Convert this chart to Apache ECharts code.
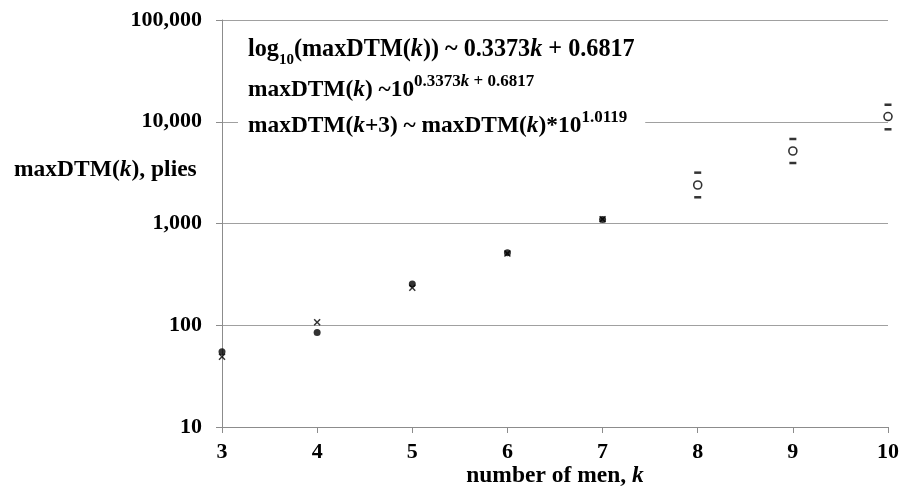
<!DOCTYPE html>
<html>
<head>
<meta charset="utf-8">
<script src="https://cdn.jsdelivr.net/npm/echarts@6/dist/echarts.min.js"></script>
<style>html,body{margin:0;padding:0;background:#fff;overflow:hidden}#c{width:901px;height:488px}</style>
</head>
<body>
<div id="c"></div>
<script>
// ---- data ----
var kActual = [3, 4, 5, 6, 7];
var maxDtmActual = [55, 85, 254, 517, 1097];
var maxDtmFitted = [49, 107, 234, 508, 1103];
var kPredicted = [8, 9, 10];
var maxDtmPredicted = [2390, 5160, 11250];
var maxDtmUpper = [3160, 6770, 14700];
var maxDtmLower = [1810, 3930, 8430];
var xTicks = [3, 4, 5, 6, 7, 8, 9, 10];

function pairs(xs, ys) { return xs.map(function (x, i) { return [x, ys[i]]; }); }

var FONT = "'Liberation Serif', 'Times New Roman', serif";
var crossPath = 'path://M0,1.5L1.5,0L5,3.5L8.5,0L10,1.5L6.5,5L10,8.5L8.5,10L5,6.5L1.5,10L0,8.5L3.5,5Z';
var EQ1 = 24.2, EQ = 23.4, SUB = 15, SUP = 17, TITLE = 23.5;

var chart = echarts.init(document.getElementById('c'), null, { renderer: 'canvas', width: 901, height: 488 });
chart.setOption({
  animation: false,
  backgroundColor: '#fff',
  grid: { left: 222, right: 13, top: 20, bottom: 61, containLabel: false, outerBoundsMode: 'none' },
  xAxis: {
    type: 'value', min: xTicks[0], max: xTicks[xTicks.length - 1], interval: 1,
    axisLine: { show: true, lineStyle: { color: '#8c8c8c', width: 1 } },
    axisTick: { show: true, length: 6, lineStyle: { color: '#8c8c8c' } },
    splitLine: { show: false },
    axisLabel: { color: '#000', fontFamily: FONT, fontWeight: 'bold', fontSize: 22, margin: 14 }
  },
  yAxis: {
    type: 'log', logBase: 10, min: 10, max: 100000,
    axisLine: { show: true, lineStyle: { color: '#8c8c8c', width: 1 } },
    axisTick: { show: true, length: 6, lineStyle: { color: '#8c8c8c' } },
    splitLine: { show: true, lineStyle: { color: '#a0a0a0', width: 1 } },
    axisLabel: {
      color: '#000', fontFamily: FONT, fontWeight: 'bold', fontSize: 22, margin: 20,
      formatter: function (v) { return Math.round(v).toLocaleString('en-US'); }
    }
  },
  graphic: [
    {
      type: 'text', x: 555, y: 476, silent: true, z: 100,
      style: {
        text: '{a|number of men, }{b|k}',
        align: 'center', verticalAlign: 'middle',
        rich: {
          a: { fontFamily: FONT, fontWeight: 'bold', fontSize: TITLE, fill: '#000' },
          b: { fontFamily: FONT, fontWeight: 'bold', fontStyle: 'italic', fontSize: TITLE, fill: '#000' }
        }
      }
    },
    {
      type: 'text', left: 14, top: 158, silent: true, z: 100,
      style: {
        text: '{a|maxDTM(}{b|k}{a|), plies}',
        rich: {
          a: { fontFamily: FONT, fontWeight: 'bold', fontSize: TITLE, fill: '#000' },
          b: { fontFamily: FONT, fontWeight: 'bold', fontStyle: 'italic', fontSize: TITLE, fill: '#000' }
        }
      }
    },
    {
      type: 'text', left: 248, top: 38, silent: true, z: 100,
      style: {
        text: '{a|log}{s|10}{a|(maxDTM(}{b|k}{a|)) ~ 0.3373}{b|k}{a| + 0.6817}',
        rich: {
          a: { fontFamily: FONT, fontWeight: 'bold', fontSize: EQ1, fill: '#000', lineHeight: 28, verticalAlign: 'bottom' },
          b: { fontFamily: FONT, fontWeight: 'bold', fontStyle: 'italic', fontSize: EQ1, fill: '#000', lineHeight: 28, verticalAlign: 'bottom' },
          s: { fontFamily: FONT, fontWeight: 'bold', fontSize: SUB, fill: '#000', lineHeight: 20, verticalAlign: 'bottom', padding: [0, 0, -6, 0] }
        }
      }
    },
    {
      type: 'text', left: 248, top: 73, silent: true, z: 100,
      style: {
        text: '{a|maxDTM(}{b|k}{a|) ~10}{p|0.3373}{q|k}{p| + 0.6817}',
        rich: {
          a: { fontFamily: FONT, fontWeight: 'bold', fontSize: EQ, fill: '#000', lineHeight: 28, verticalAlign: 'bottom' },
          b: { fontFamily: FONT, fontWeight: 'bold', fontStyle: 'italic', fontSize: EQ, fill: '#000', lineHeight: 28, verticalAlign: 'bottom' },
          p: { fontFamily: FONT, fontWeight: 'bold', fontSize: SUP, fill: '#000', lineHeight: 28, verticalAlign: 'top' },
          q: { fontFamily: FONT, fontWeight: 'bold', fontStyle: 'italic', fontSize: SUP, fill: '#000', lineHeight: 28, verticalAlign: 'top' }
        }
      }
    },
    {
      type: 'text', left: 238, top: 107, silent: true, z: 100,
      style: {
        text: '{a|maxDTM(}{b|k}{a|+3) ~ maxDTM(}{b|k}{a|)*10}{p|1.0119}',
        backgroundColor: '#fff', padding: [2, 18, 2, 10],
        rich: {
          a: { fontFamily: FONT, fontWeight: 'bold', fontSize: EQ, fill: '#000', lineHeight: 28, verticalAlign: 'bottom' },
          b: { fontFamily: FONT, fontWeight: 'bold', fontStyle: 'italic', fontSize: EQ, fill: '#000', lineHeight: 28, verticalAlign: 'bottom' },
          p: { fontFamily: FONT, fontWeight: 'bold', fontSize: SUP, fill: '#000', lineHeight: 28, verticalAlign: 'top' }
        }
      }
    }
  ],
  series: [
    {
      name: 'fitted', type: 'scatter', data: pairs(kActual, maxDtmFitted),
      symbol: crossPath, symbolSize: 7, itemStyle: { color: '#000' }, z: 3
    },
    {
      name: 'actual', type: 'scatter', data: pairs(kActual, maxDtmActual),
      symbol: 'circle', symbolSize: 7, itemStyle: { color: '#000' }, z: 4
    },
    {
      name: 'predicted', type: 'scatter', data: pairs(kPredicted, maxDtmPredicted),
      symbol: 'circle', symbolSize: 8,
      itemStyle: { color: '#fff', borderColor: '#000', borderWidth: 1.6 }, z: 4
    },
    {
      name: 'upper', type: 'scatter', data: pairs(kPredicted, maxDtmUpper),
      symbol: 'rect', symbolSize: [7, 2.5], itemStyle: { color: '#000' }, z: 4
    },
    {
      name: 'lower', type: 'scatter', data: pairs(kPredicted, maxDtmLower),
      symbol: 'rect', symbolSize: [7, 2.5], itemStyle: { color: '#000' }, z: 4
    }
  ]
});
</script>
</body>
</html>
